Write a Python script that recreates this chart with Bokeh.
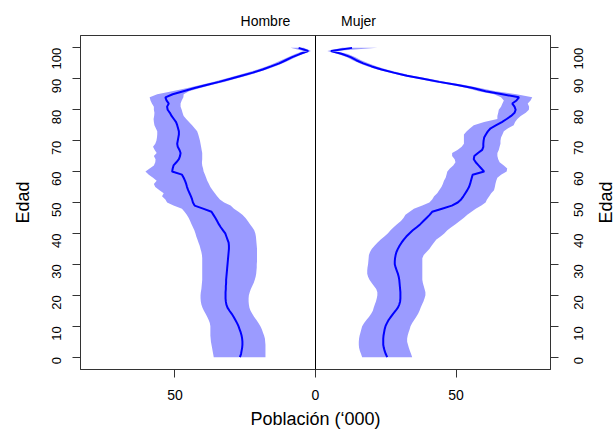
import math
from bokeh.plotting import figure
from bokeh.layouts import row
from bokeh.models import Range1d, LinearAxis, FixedTicker, Span, ColumnDataSource
from bokeh.core.properties import value
from bokeh.embed import file_html
from bokeh.resources import INLINE

ages = list(range(0, 101))

male_mean = [26.9, 26.5, 26.3, 26.1, 26.0, 26.0, 26.1, 26.3, 26.6, 27.0,
             27.4, 27.9, 28.5, 29.1, 29.8, 30.6, 31.3, 31.7, 31.9, 32.0,
             32.0, 32.0, 31.9, 31.9, 31.8, 31.8, 31.7, 31.6, 31.5, 31.4,
             31.3, 31.2, 31.1, 31.0, 30.9, 30.8, 30.8, 30.9, 31.3, 31.7,
             32.1, 32.9, 33.7, 34.4, 35.0, 35.6, 36.3, 37.0, 40.0, 43.0,
             43.6, 43.9, 44.3, 44.8, 45.3, 45.7, 46.0, 46.4, 46.9, 47.5,
             51.0, 50.8, 50.5, 49.5, 48.6, 48.2, 48.0, 48.4, 49.0, 49.2,
             49.0, 48.8, 48.6, 48.6, 48.9, 49.2, 49.6, 50.4, 51.2, 51.8,
             52.6, 52.8, 52.2, 53.0, 53.4, 50.8, 47.0, 43.0, 38.8, 34.3,
             30.2, 26.3, 22.3, 18.8, 15.8, 12.9, 10.6, 8.3, 5.6, 2.6,
             6.0]
male_lo = [17.8, 17.8, 17.8, 17.8, 17.8, 17.9, 18.0, 18.3, 18.7, 19.1,
           19.6, 20.3, 21.0, 21.8, 22.5, 23.1, 23.5, 23.7, 23.8, 23.8,
           23.7, 23.4, 23.0, 22.5, 22.0, 21.6, 21.3, 21.1, 21.0, 20.9,
           20.9, 20.8, 20.8, 20.8, 20.8, 20.8, 20.9, 21.0, 21.1, 21.2,
           21.4, 21.8, 22.5, 23.3, 24.1, 24.9, 26.0, 27.4, 29.0, 30.2,
           32.5, 34.0, 35.0, 35.8, 36.6, 37.4, 37.9, 38.5, 38.9, 39.3,
           39.8, 40.0, 40.3, 40.4, 40.3, 40.3, 40.3, 40.5, 40.7, 40.9,
           41.1, 41.4, 41.7, 42.1, 43.0, 43.9, 45.0, 46.0, 46.9, 47.3,
           47.6, 48.0, 48.0, 47.6, 47.0, 46.9, 45.0, 41.0, 37.0, 32.5,
           28.5, 24.5, 20.8, 17.4, 14.5, 11.6, 9.3, 7.1, 4.5, 1.6,
           4.2]
male_hi = [36.2, 36.4, 36.6, 36.8, 37.0, 37.2, 37.3, 37.4, 37.4, 37.4,
           37.4, 37.6, 38.0, 38.5, 39.1, 39.7, 40.2, 40.6, 40.8, 40.9,
           40.9, 40.8, 40.6, 40.5, 40.4, 40.3, 40.3, 40.3, 40.3, 40.3,
           40.3, 40.3, 40.3, 40.4, 40.6, 40.9, 41.2, 41.6, 42.0, 42.4,
           42.7, 43.1, 43.6, 44.1, 44.6, 45.1, 45.8, 46.6, 47.5, 50.5,
           52.8, 53.4, 54.6, 54.0, 55.5, 57.0, 57.5, 56.5, 57.8, 59.3,
           60.5, 59.0, 57.5, 57.0, 56.9, 57.5, 56.5, 57.2, 57.8, 57.0,
           56.6, 56.4, 56.3, 56.3, 56.8, 57.3, 57.5, 57.6, 57.4, 57.3,
           57.5, 57.5, 58.2, 58.7, 59.0, 56.3, 51.0, 45.5, 41.0, 36.5,
           32.2, 28.3, 24.2, 20.6, 17.5, 14.6, 12.2, 9.8, 7.2, 4.2,
           8.9]

female_mean = [25.5, 25.0, 24.6, 24.3, 24.1, 24.1, 24.1, 24.2, 24.4, 24.6,
               24.9, 25.4, 26.0, 26.8, 27.6, 28.5, 29.3, 29.8, 30.1, 30.2,
               30.2, 30.2, 30.1, 30.0, 29.9, 29.8, 29.6, 29.3, 28.9, 28.5,
               28.2, 28.2, 28.3, 28.5, 28.8, 29.3, 29.9, 30.6, 31.4, 32.3,
               33.4, 34.6, 36.0, 37.3, 38.4, 39.5, 40.6, 41.5, 45.0, 48.5,
               50.6, 51.8, 52.6, 53.3, 54.0, 54.6, 55.0, 55.3, 55.6, 55.9,
               60.0, 59.0, 58.0, 57.0, 56.3, 56.5, 57.8, 59.3, 59.7, 59.7,
               59.8, 60.0, 60.6, 61.3, 62.3, 64.3, 66.3, 68.0, 69.6, 70.8,
               71.2, 70.8, 70.0, 71.5, 72.4, 66.5, 60.5, 56.0, 50.5, 44.0,
               38.3, 32.5, 27.8, 23.5, 20.0, 17.0, 14.5, 12.5, 9.5, 5.5,
               13.0]
female_lo = [16.6, 16.2, 15.8, 15.5, 15.4, 15.4, 15.5, 15.7, 16.0, 16.3,
             16.6, 17.3, 18.1, 19.0, 19.8, 20.4, 20.7, 21.1, 21.5, 21.8,
             22.0, 22.0, 21.6, 20.8, 20.0, 19.2, 18.7, 18.4, 18.4, 18.5,
             18.7, 18.8, 18.9, 19.0, 19.4, 20.0, 21.0, 22.0, 23.2, 24.5,
             25.7, 26.7, 27.8, 29.0, 30.4, 31.3, 32.0, 33.5, 35.0, 38.0,
             40.5, 41.5, 42.2, 43.3, 44.0, 44.8, 45.3, 45.7, 46.3, 46.6,
             46.9, 47.8, 49.0, 49.8, 49.5, 48.6, 48.6, 50.5, 52.0, 52.8,
             52.8, 52.8, 52.8, 53.8, 55.0, 56.3, 60.0, 64.7, 64.7, 65.0,
             65.2, 66.0, 66.5, 67.0, 66.0, 63.5, 58.0, 53.8, 48.5, 42.0,
             36.5, 30.8, 26.2, 22.0, 18.6, 15.6, 13.2, 11.2, 8.0, 4.2,
             9.5]
female_hi = [34.4, 34.0, 33.6, 33.2, 32.9, 32.6, 32.6, 32.8, 33.1, 33.5,
             33.8, 34.4, 35.1, 35.8, 36.5, 37.0, 37.4, 37.9, 38.4, 38.8,
             39.1, 39.1, 38.8, 38.5, 38.2, 38.0, 38.0, 38.0, 38.0, 38.0,
             38.0, 38.0, 38.0, 38.5, 39.5, 40.5, 41.3, 42.1, 43.0, 44.5,
             45.8, 46.9, 48.3, 49.8, 51.3, 52.7, 54.0, 55.5, 57.0, 59.0,
             60.5, 61.0, 61.8, 62.5, 63.5, 63.8, 64.0, 64.3, 64.7, 66.0,
             68.0, 68.2, 67.0, 65.5, 65.0, 64.7, 64.7, 65.2, 65.5, 65.8,
             65.8, 66.0, 66.5, 67.0, 68.5, 70.5, 71.0, 71.8, 73.0, 74.8,
             75.9, 76.0, 75.5, 76.5, 77.1, 71.5, 64.0, 58.5, 53.0, 46.5,
             40.5, 34.5, 29.5, 25.3, 21.8, 18.8, 16.2, 14.2, 11.5, 7.0,
             22.0]

x_ticks = [-50, 0, 50]
x_tick_labels = ["50", "0", "50"]
y_ticks = [0, 10, 20, 30, 40, 50, 60, 70, 80, 90, 100]
panel_pos = [-17.8, 15.3]
panel_titles = ["Hombre", "Mujer"]

FONT = "Liberation Sans"
BAND = "#9b9bff"
LINE = "#0000ff"

src = ColumnDataSource(dict(
    age=ages,
    m_mean=[-v for v in male_mean], m_lo=[-v for v in male_lo], m_hi=[-v for v in male_hi],
    f_mean=female_mean, f_lo=female_lo, f_hi=female_hi,
))

yr = Range1d(-4, 104)
p = figure(frame_width=470, frame_height=334, output_backend="svg", toolbar_location=None,
           x_range=Range1d(-83.6, 83.6), y_range=yr,
           x_axis_location=None, y_axis_location=None,
           min_border_left=80, min_border_right=10, min_border_top=35, min_border_bottom=55)
p.xgrid.visible = False
p.ygrid.visible = False
p.outline_line_color = "#333333"
p.outline_line_width = 1
p.background_fill_color = "white"
p.border_fill_color = "white"

p.harea(y="age", x1="m_lo", x2="m_hi", source=src, fill_color=BAND, fill_alpha=1.0)
p.harea(y="age", x1="f_lo", x2="f_hi", source=src, fill_color=BAND, fill_alpha=1.0)
p.line(x="m_mean", y="age", source=src, line_color=LINE, line_width=2)
p.line(x="f_mean", y="age", source=src, line_color=LINE, line_width=2)

p.add_layout(Span(location=0, dimension="height", line_color="black", line_width=1))

def style_axis(ax, label_size):
    ax.axis_line_color = "#333333"
    ax.major_tick_line_color = "#333333"
    ax.minor_tick_line_color = None
    ax.major_tick_in = 0
    ax.major_tick_out = 8
    ax.major_label_text_font = FONT
    ax.major_label_text_font_size = label_size
    ax.major_label_text_color = "black"
    ax.axis_label_text_font = FONT
    ax.axis_label_text_font_size = "18px"
    ax.axis_label_text_font_style = "normal"
    ax.axis_label_text_color = "black"

xa = LinearAxis(ticker=FixedTicker(ticks=x_ticks), axis_label="Población (‘000)")
xa.major_label_overrides = {t: l for t, l in zip(x_ticks, x_tick_labels)}
style_axis(xa, "14px")
xa.major_label_standoff = 12
xa.axis_label_standoff = 6
p.add_layout(xa, "below")

ya = LinearAxis(ticker=FixedTicker(ticks=y_ticks), axis_label="Edad")
style_axis(ya, "13px")
ya.major_label_orientation = math.pi / 2
ya.major_label_standoff = 16
ya.axis_label_standoff = 12
p.add_layout(ya, "left")

# right side: tick marks only (labels are drawn by the companion strip)
ya2 = LinearAxis(ticker=FixedTicker(ticks=y_ticks))
style_axis(ya2, "0px")
ya2.major_label_overrides = {t: "" for t in y_ticks}
ya2.major_label_standoff = 0
p.add_layout(ya2, "right")

# panel titles drawn as a tick-label-only top axis
ta = LinearAxis(ticker=FixedTicker(ticks=panel_pos))
ta.major_label_overrides = {t: l for t, l in zip(panel_pos, panel_titles)}
ta.axis_line_color = None
ta.major_tick_line_color = None
ta.minor_tick_line_color = None
ta.major_tick_out = 0
ta.major_tick_in = 0
ta.major_label_standoff = 7
ta.major_label_text_font = FONT
ta.major_label_text_font_size = "14px"
ta.major_label_text_color = "black"
p.add_layout(ta, "above")

# companion strip on the right: tick labels (left axis, centred) + "Edad"
p2 = figure(frame_width=22, frame_height=334, output_backend="svg", toolbar_location=None,
            x_range=Range1d(0, 22), y_range=yr,
            x_axis_location=None, y_axis_location=None,
            min_border_left=32, min_border_right=0, min_border_top=35, min_border_bottom=55)
p2.xgrid.visible = False
p2.ygrid.visible = False
p2.outline_line_color = None
p2.background_fill_color = "white"
p2.border_fill_color = "white"
ra = LinearAxis(ticker=FixedTicker(ticks=y_ticks))
style_axis(ra, "13px")
ra.axis_line_color = None
ra.major_tick_line_color = None
ra.major_tick_out = 0
ra.major_label_orientation = math.pi / 2
ra.major_label_standoff = 14
p2.add_layout(ra, "left")
p2.text(x=[13], y=[50], text=["Edad"], angle=math.pi / 2, text_align="center",
        text_baseline="middle", text_font=value(FONT), text_font_size="18px", text_color="black")

layout = row(p, p2, spacing=0)
open("out.html", "w").write(file_html(layout, INLINE))
